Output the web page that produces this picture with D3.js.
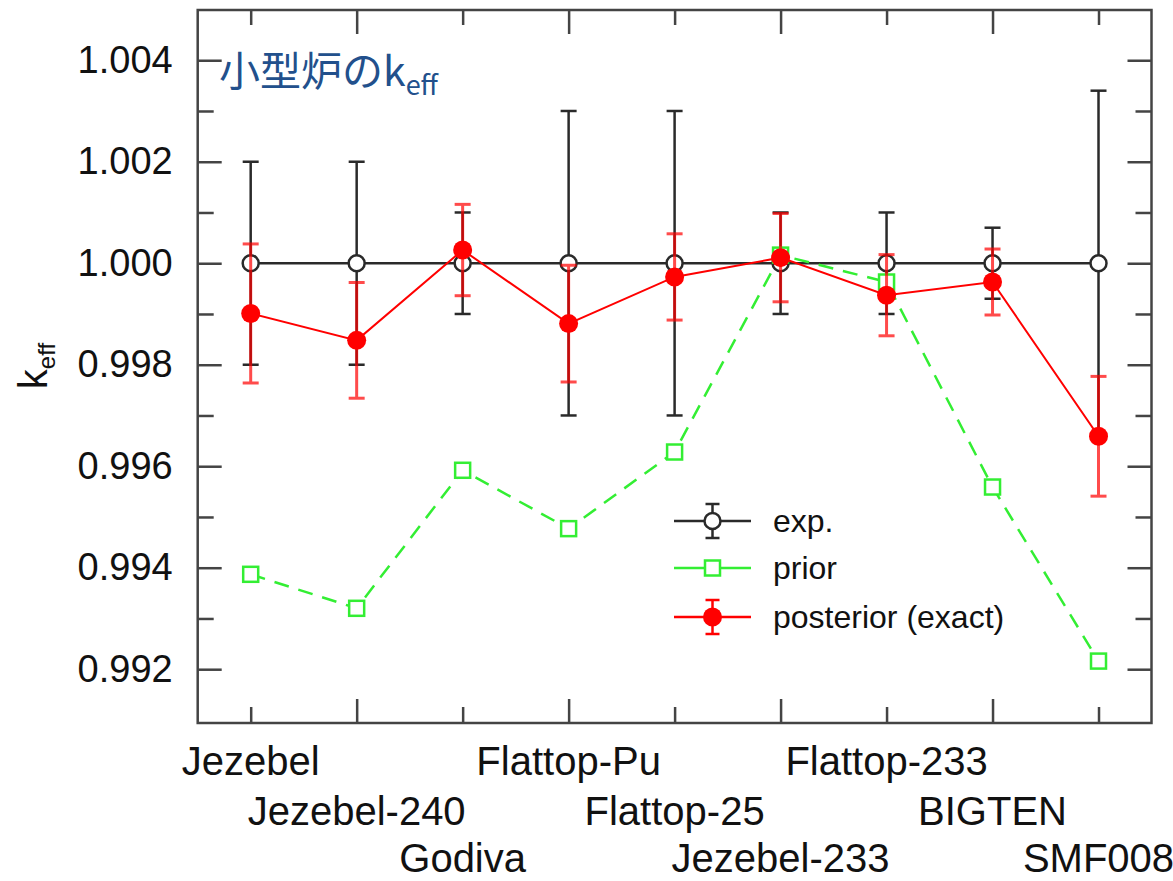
<!DOCTYPE html>
<html>
<head>
<meta charset="utf-8">
<script src="https://cdn.jsdelivr.net/npm/d3@7"></script>
<style>
	body { margin: 0; background: #fff; }
	svg { display: block; font-family: "Liberation Sans", Arial, sans-serif; }
</style>
</head>
<body>
<svg id="chart" width="1173" height="881"></svg>
<script>
// benchmark cases, in plotting order
const cases = ["Jezebel", "Jezebel-240", "Godiva", "Flattop-Pu", "Flattop-25", "Jezebel-233", "Flattop-233", "BIGTEN", "SMF008"];

// experiment (normalised to 1) and its uncertainty
const expVal = [1, 1, 1, 1, 1, 1, 1, 1, 1];
const expErr = [0.002, 0.002, 0.001, 0.003, 0.003, 0.001, 0.001, 0.0007, 0.0034];

// prior calculation
const priorVal = [0.99387, 0.9932, 0.99592, 0.99477, 0.99628, 1.00016, 0.99963, 0.99559, 0.99216];

// posterior (exact) and its uncertainty
const postVal = [0.99901, 0.99848, 1.00026, 0.99881, 0.99973, 1.00011, 0.99937, 0.99963, 0.99659];
const postErr = [0.00137, 0.00114, 0.0009, 0.00115, 0.00085, 0.00087, 0.0008, 0.00065, 0.00118];

const yMajor = [0.992, 0.994, 0.996, 0.998, 1.0, 1.002, 1.004];
const yMinor = [0.993, 0.995, 0.997, 0.999, 1.001, 1.003];
const xMajor = [2, 4, 6, 8];
const xMinor = [1, 3, 5, 7, 9];

const legendItems = ["exp.", "prior", "posterior (exact)"];

const colors = {
	exp: "#2a2a2a",
	prior: "#33ee33",
	post: "#ff0000",
	axis: "#444",
	title: "#22508c",
};

const svg = d3.select("#chart");
const plotL = 197.7, plotR = 1151.5, plotT = 10, plotB = 723;

const x = d3.scaleLinear().domain([0.5, 9.5]).range([plotL, plotR]);
const y = d3.scaleLinear().domain([0.99094, 1.00499]).range([plotB, plotT]);

const idx = cases.map((d, i) => i + 1);

// ---- axes (ticks point inward, gnuplot style)
function styleAxis(g) {
	g.select(".domain").remove();
	g.selectAll(".tick line").attr("stroke", colors.axis).attr("stroke-width", 2.5);
	g.selectAll(".tick text").attr("fill", "#111").attr("font-size", 38);
}

svg.append("g").attr("transform", `translate(${plotL},0)`)
	.call(d3.axisLeft(y).tickValues(yMajor).tickSize(-24).tickPadding(25).tickFormat(d3.format(".3f")))
	.call(styleAxis);
svg.append("g").attr("transform", `translate(${plotL},0)`)
	.call(d3.axisLeft(y).tickValues(yMinor).tickSize(-16).tickFormat(""))
	.call(styleAxis);
svg.append("g").attr("transform", `translate(${plotR},0)`)
	.call(d3.axisRight(y).tickValues(yMajor).tickSize(-24).tickFormat(""))
	.call(styleAxis);
svg.append("g").attr("transform", `translate(${plotR},0)`)
	.call(d3.axisRight(y).tickValues(yMinor).tickSize(-16).tickFormat(""))
	.call(styleAxis);

svg.append("g").attr("transform", `translate(0,${plotT})`)
	.call(d3.axisTop(x).tickValues(xMajor).tickSize(-24).tickFormat(""))
	.call(styleAxis);
svg.append("g").attr("transform", `translate(0,${plotT})`)
	.call(d3.axisTop(x).tickValues(xMinor).tickSize(-15).tickFormat(""))
	.call(styleAxis);
svg.append("g").attr("transform", `translate(0,${plotB})`)
	.call(d3.axisBottom(x).tickValues(xMajor).tickSize(-24).tickFormat(""))
	.call(styleAxis);
svg.append("g").attr("transform", `translate(0,${plotB})`)
	.call(d3.axisBottom(x).tickValues(xMinor).tickSize(-16).tickFormat(""))
	.call(styleAxis);

// staggered case labels
const rowOffset = [52, 102, 149];
svg.append("g")
	.selectAll("text")
	.data(cases)
	.join("text")
	.attr("x", (d, i) => x(i + 1))
	.attr("y", (d, i) => plotB + rowOffset[i % 3])
	.attr("text-anchor", "middle")
	.attr("font-size", 40)
	.attr("fill", "#111")
	.text((d) => d);

svg.append("rect")
	.attr("x", plotL).attr("y", plotT)
	.attr("width", plotR - plotL).attr("height", plotB - plotT)
	.attr("fill", "none")
	.attr("stroke", colors.axis)
	.attr("stroke-width", 2.5);

// y label
const ylab = svg.append("text")
	.attr("transform", "translate(47,366) rotate(-90)")
	.attr("text-anchor", "middle")
	.attr("font-size", 40)
	.attr("fill", "#111");
ylab.append("tspan").text("k");
ylab.append("tspan").attr("font-size", 24).attr("dy", 8).text("eff");

// ---- series
const line = d3.line().x((d) => x(d[0])).y((d) => y(d[1]));

function errorBars(g, vals, errs, color, width, capW, opacity) {
	const eb = g.append("g").attr("stroke", color).attr("stroke-width", width).attr("opacity", opacity);
	idx.forEach((i, k) => {
		const hi = y(vals[k] + errs[k]), lo = y(vals[k] - errs[k]);
		eb.append("line").attr("x1", x(i)).attr("x2", x(i)).attr("y1", hi).attr("y2", lo);
		eb.append("line").attr("x1", x(i) - capW / 2).attr("x2", x(i) + capW / 2).attr("y1", hi).attr("y2", hi);
		eb.append("line").attr("x1", x(i) - capW / 2).attr("x2", x(i) + capW / 2).attr("y1", lo).attr("y2", lo);
	});
}

// exp
const gExp = svg.append("g");
gExp.append("path")
	.attr("d", line(idx.map((i, k) => [i, expVal[k]])))
	.attr("fill", "none").attr("stroke", colors.exp).attr("stroke-width", 2.5);
errorBars(gExp, expVal, expErr, colors.exp, 2.5, 16, 1);
gExp.selectAll("circle")
	.data(expVal)
	.join("circle")
	.attr("cx", (d, k) => x(k + 1)).attr("cy", (d) => y(d)).attr("r", 8)
	.attr("fill", "#fff").attr("stroke", colors.exp).attr("stroke-width", 2.5);

// prior
const gPrior = svg.append("g");
gPrior.append("path")
	.attr("d", line(idx.map((i, k) => [i, priorVal[k]])))
	.attr("fill", "none").attr("stroke", colors.prior).attr("stroke-width", 2.5)
	.attr("stroke-dasharray", "15,10");
gPrior.selectAll("rect")
	.data(priorVal)
	.join("rect")
	.attr("x", (d, k) => x(k + 1) - 7.5).attr("y", (d) => y(d) - 7.5)
	.attr("width", 15).attr("height", 15)
	.attr("fill", "#fff").attr("stroke", colors.prior).attr("stroke-width", 2.5);

// posterior
const gPost = svg.append("g");
errorBars(gPost, postVal, postErr, colors.post, 3, 16, 0.7);
gPost.append("path")
	.attr("d", line(idx.map((i, k) => [i, postVal[k]])))
	.attr("fill", "none").attr("stroke", colors.post).attr("stroke-width", 2);
gPost.selectAll("circle")
	.data(postVal)
	.join("circle")
	.attr("cx", (d, k) => x(k + 1)).attr("cy", (d) => y(d)).attr("r", 9.5)
	.attr("fill", colors.post);

// ---- legend
const legend = svg.append("g").attr("transform", "translate(674,521)");
const rowGap = [0, 47, 96];
legendItems.forEach((name, k) => {
	const r = legend.append("g").attr("transform", `translate(0,${rowGap[k]})`);
	const c = k === 0 ? colors.exp : k === 1 ? colors.prior : colors.post;
	r.append("line").attr("x1", 0).attr("x2", 77).attr("stroke", c).attr("stroke-width", 2.5);
	if (k !== 1) {
		r.append("line").attr("x1", 38.5).attr("x2", 38.5).attr("y1", -17).attr("y2", 17)
			.attr("stroke", c).attr("stroke-width", 2.5);
		r.append("line").attr("x1", 31.5).attr("x2", 45.5).attr("y1", -17).attr("y2", -17)
			.attr("stroke", c).attr("stroke-width", 2.5);
		r.append("line").attr("x1", 31.5).attr("x2", 45.5).attr("y1", 17).attr("y2", 17)
			.attr("stroke", c).attr("stroke-width", 2.5);
	}
	if (k === 0) {
		r.append("circle").attr("cx", 38.5).attr("r", 8).attr("fill", "#fff").attr("stroke", c).attr("stroke-width", 2.5);
	} else if (k === 1) {
		r.append("rect").attr("x", 31).attr("y", -7.5).attr("width", 15).attr("height", 15)
			.attr("fill", "#fff").attr("stroke", c).attr("stroke-width", 2.5);
	} else {
		r.append("circle").attr("cx", 38.5).attr("r", 9.5).attr("fill", c);
	}
	r.append("text").attr("x", 99).attr("dy", "0.35em")
		.attr("font-size", 32).attr("fill", "#111").text(name);
});

// ---- title
const title = svg.append("text")
	.attr("x", 219).attr("y", 86)
	.attr("font-family", "'Noto Sans CJK JP', sans-serif")
	.attr("font-size", 41)
	.attr("fill", colors.title);
title.append("tspan").text("小型炉のk");
title.append("tspan").attr("font-size", 27).attr("dy", 9).text("eff");
</script>
</body>
</html>
